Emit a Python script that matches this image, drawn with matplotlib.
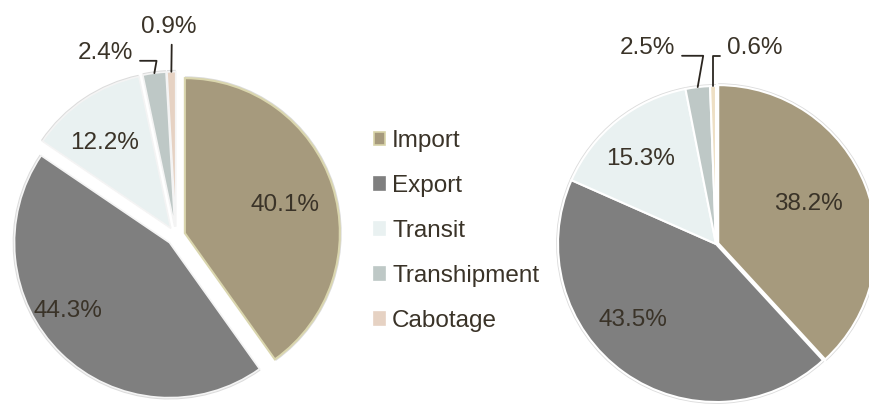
import numpy as np
import matplotlib
matplotlib.use("Agg")
import matplotlib.pyplot as plt
import matplotlib.patches as mpatches

# data
categories = ['Import', 'Export', 'Transit', 'Transhipment', 'Cabotage']
left_values = [40.1, 44.3, 12.2, 2.4, 0.9]
right_values = [38.2, 43.5, 15.3, 2.5, 0.6]

# styles
left_colors = ['#A69A7D', '#7F7F7F', '#E9F1F1', '#BEC8C6', '#E6D2C3']
right_colors = ['#A69A7D', '#7F7F7F', '#E9F1F1', '#BEC8C6', '#EEDFC4']
TEXT_COLOR = '#3A3328'
FONTSIZE = 17.5
W, H = 870, 404

plt.rcParams['font.family'] = ['Liberation Sans', 'DejaVu Sans']

fig = plt.figure(figsize=(W / 100, H / 100), dpi=100)


def pie_axes(cx, cy, r):
    # axes with limits +-1.25 so that radius 1 == r pixels
    side = 2.5 * r
    ax = fig.add_axes([(cx - side / 2) / W, (H - cy - side / 2) / H, side / W, side / H])
    return ax


def inner_labels(ax, wedges, values, spots):
    for w, v, (dist, dtheta) in zip(wedges, values, spots):
        if dist is None:
            continue
        mid = np.deg2rad((w.theta1 + w.theta2) / 2 + dtheta)
        x = w.center[0] + dist * np.cos(mid)
        y = w.center[1] + dist * np.sin(mid)
        ax.text(x, y, f'{v:.1f}%', ha='center', va='center', fontsize=FONTSIZE, color=TEXT_COLOR)


def edge_point(w, extra=0.0):
    mid = np.deg2rad((w.theta1 + w.theta2) / 2)
    return (w.center[0] + (w.r + extra) * np.cos(mid), w.center[1] + (w.r + extra) * np.sin(mid))


# ---- left pie (exploded)
ax1 = pie_axes(176, 236, 155)
wl, _ = ax1.pie(left_values, colors=left_colors, startangle=90, counterclock=False,
                explode=[0.06] * 5, wedgeprops=dict(edgecolor='#F4F4F4', linewidth=1.2))
wl[0].set_edgecolor('#DAD6AE')
wl[0].set_linewidth(1.5)
# faint outline like the soft shadow in the original
for w in wl:
    ax1.add_patch(mpatches.Wedge(w.center, w.r + 0.012, w.theta1, w.theta2,
                                 facecolor='#DCDCDC', edgecolor='none', zorder=w.get_zorder() - 0.5))
ax1.set_xlim(-1.25, 1.25)
ax1.set_ylim(-1.25, 1.25)
inner_labels(ax1, wl, left_values, [(0.67, -2), (0.79, -12), (0.70, 4), (None, 0), (None, 0)])

arrow = dict(arrowstyle='-', color='#2B2620', lw=1.3, shrinkA=3, shrinkB=0)
ax1.annotate(f'{left_values[3]:.1f}%', xy=edge_point(wl[3]), xytext=(-0.277, 1.18),
             ha='right', va='center', fontsize=FONTSIZE, color=TEXT_COLOR,
             arrowprops=dict(arrow, relpos=(1, 0.15), connectionstyle='angle,angleA=0,angleB=80,rad=0'))
ax1.annotate(f'{left_values[4]:.1f}%', xy=edge_point(wl[4]), xytext=(-0.045, 1.35),
             ha='center', va='center', fontsize=FONTSIZE, color=TEXT_COLOR,
             arrowprops=dict(arrow, relpos=(0.55, 0)))

# ---- right pie
ax2 = pie_axes(716, 244, 158)
wr, _ = ax2.pie(right_values, colors=right_colors, startangle=90, counterclock=False,
                explode=[0.015, 0, 0, 0, 0], wedgeprops=dict(edgecolor='white', linewidth=1.5))
for w in wr:
    ax2.add_patch(mpatches.Wedge(w.center, w.r + 0.012, w.theta1, w.theta2,
                                 facecolor='#DCDCDC', edgecolor='none', zorder=w.get_zorder() - 0.5))
ax2.set_xlim(-1.25, 1.25)
ax2.set_ylim(-1.25, 1.25)
inner_labels(ax2, wr, right_values, [(0.62, 2), (0.71, -12), (0.72, 3), (None, 0), (None, 0)])

ax2.annotate(f'{right_values[3]:.1f}%', xy=edge_point(wr[3]), xytext=(-0.259, 1.24),
             ha='right', va='center', fontsize=FONTSIZE, color=TEXT_COLOR,
             arrowprops=dict(arrow, relpos=(1, 0.15), connectionstyle='angle,angleA=0,angleB=80,rad=0'))
ax2.annotate(f'{right_values[4]:.1f}%', xy=edge_point(wr[4]), xytext=(0.070, 1.24),
             ha='left', va='center', fontsize=FONTSIZE, color=TEXT_COLOR,
             arrowprops=dict(arrow, relpos=(0, 0.15), connectionstyle='angle,angleA=180,angleB=90,rad=0'))

# ---- legend
handles = [mpatches.Patch(facecolor=c, edgecolor=('#D8D3A8' if i == 0 else c), linewidth=1.2, label=n)
           for i, (c, n) in enumerate(zip(left_colors, categories))]
fig.legend(handles=handles, loc='upper left', bbox_to_anchor=(374 / W, 1 - 130 / H),
           frameon=False, fontsize=FONTSIZE, labelcolor=TEXT_COLOR,
           handlelength=0.45, handleheight=0.45, handletextpad=0.3,
           labelspacing=0.95, borderpad=0, borderaxespad=0)

fig.savefig('out.png', dpi=100)
